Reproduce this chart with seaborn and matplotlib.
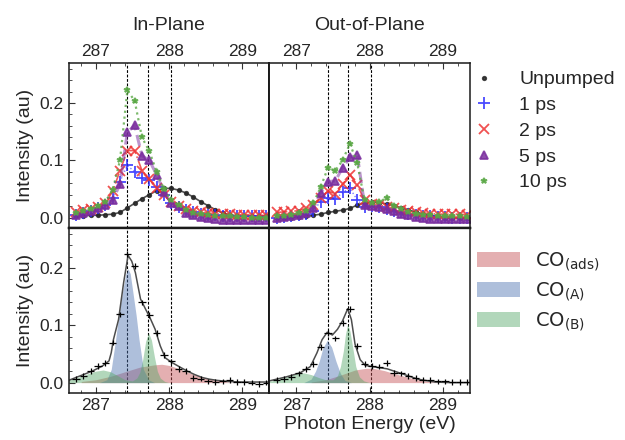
import matplotlib.pyplot as plt
import seaborn as sns
from matplotlib.ticker import MultipleLocator

#################### CONFIG ####################
sns.set_style("ticks")
plt.rcParams["font.family"] = ["Liberation Sans", "DejaVu Sans"]
plt.rcParams["mathtext.fontset"] = "dejavusans"
plt.rcParams["font.size"] = 14

DEEP = sns.color_palette("deep")
C_ADS, C_A, C_B = DEEP[3], DEEP[0], DEEP[2]
PEAK_LINES = [287.43, 287.71, 288.02]

#################### DATA ####################
energy = [286.73, 286.83, 286.93, 287.03, 287.13, 287.23, 287.33, 287.43, 287.53,
          287.63, 287.73, 287.83, 287.93, 288.03, 288.13, 288.23, 288.33, 288.43,
          288.53, 288.63, 288.73, 288.83, 288.93, 289.03, 289.13, 289.23, 289.33]

# in-plane pump-probe spectra
ip_unpumped = [0.003, 0.003, 0.004, 0.004, 0.005, 0.006, 0.009, 0.017, 0.025, 0.033, 0.040,
               0.047, 0.051, 0.051, 0.048, 0.043, 0.036, 0.028, 0.021, 0.014, 0.008, 0.005,
               0.003, 0.003, 0.002, 0.002, 0.002]
ip_1ps = [0.004, 0.008, 0.012, 0.016, 0.022, 0.034, 0.063, 0.091, 0.080, 0.069, 0.066,
          0.053, 0.040, 0.025, 0.018, 0.013, 0.010, 0.007, 0.005, 0.004, 0.003, 0.002,
          0.002, 0.002, 0.002, 0.002, 0.002]
ip_2ps = [0.010, 0.013, 0.015, 0.018, 0.025, 0.046, 0.082, 0.117, 0.117, 0.082, 0.067,
          0.052, 0.040, 0.027, 0.020, 0.015, 0.012, 0.010, 0.008, 0.007, 0.006, 0.006,
          0.005, 0.005, 0.005, 0.004, 0.004]
ip_5ps = [0.005, 0.008, 0.012, 0.016, 0.022, 0.031, 0.058, 0.149, 0.161, 0.108, 0.100,
          0.075, 0.045, 0.025, 0.020, 0.008, 0.004, 0.001, -0.001, -0.003, -0.004, -0.004,
          -0.004, -0.004, -0.005, -0.005, -0.005]
ip_10ps = [0.008, 0.011, 0.015, 0.020, 0.028, 0.048, 0.100, 0.222, 0.204, 0.140, 0.116,
           0.080, 0.050, 0.030, 0.022, 0.014, 0.008, 0.006, 0.004, 0.003, 0.002, 0.002,
           0.001, 0.001, 0.000, 0.000, 0.000]

# out-of-plane pump-probe spectra
oop_unpumped = [-0.001, -0.001, 0.000, 0.001, 0.002, 0.004, 0.006, 0.009, 0.011, 0.013, 0.016,
                0.022, 0.026, 0.027, 0.026, 0.024, 0.021, 0.017, 0.013, 0.010, 0.006, 0.004,
                0.002, 0.000, -0.001, -0.001, -0.001]
oop_1ps = [0.000, 0.001, 0.002, 0.004, 0.007, 0.012, 0.028, 0.034, 0.032, 0.044, 0.051,
           0.031, 0.019, 0.020, 0.018, 0.015, 0.012, 0.009, 0.007, 0.005, 0.003, 0.002,
           0.001, 0.001, 0.000, 0.000, 0.000]
oop_2ps = [0.009, 0.010, 0.011, 0.012, 0.016, 0.022, 0.035, 0.046, 0.042, 0.058, 0.075,
           0.057, 0.030, 0.024, 0.022, 0.019, 0.016, 0.013, 0.011, 0.009, 0.008, 0.007,
           0.006, 0.006, 0.006, 0.006, 0.005]
oop_5ps = [0.000, 0.001, 0.002, 0.004, 0.008, 0.016, 0.043, 0.063, 0.064, 0.087, 0.105,
           0.110, 0.022, 0.020, 0.018, 0.015, 0.011, 0.007, 0.004, 0.001, -0.001, -0.002,
           -0.003, -0.003, -0.003, -0.003, -0.003]
oop_10ps = [0.002, 0.003, 0.005, 0.008, 0.012, 0.025, 0.053, 0.087, 0.082, 0.100, 0.129,
            0.095, 0.030, 0.026, 0.028, 0.034, 0.020, 0.015, 0.010, 0.007, 0.005, 0.004,
            0.003, 0.002, 0.002, 0.002, 0.001]

# fitted 10 ps spectra (bottom row)
ip_fit_data = [0.006, 0.011, 0.020, 0.029, 0.034, 0.070, 0.119, 0.225, 0.204, 0.140, 0.118,
               0.087, 0.048, 0.037, 0.024, 0.020, 0.008, 0.007, 0.002, 0.001, 0.002, 0.004,
               0.001, 0.001, 0.000, -0.002, 0.000]
oop_fit_data = [0.004, 0.006, 0.010, 0.016, 0.024, 0.032, 0.062, 0.086, 0.077, 0.104, 0.129,
                0.064, 0.033, 0.029, 0.028, 0.034, 0.017, 0.016, 0.011, 0.008, 0.005, 0.004,
                0.002, 0.002, 0.001, 0.001, 0.001]

ip_fit_x = [286.63, 286.77, 286.95, 287.09, 287.18, 287.21, 287.24, 287.31, 287.38, 287.44,
            287.49, 287.54, 287.61, 287.68, 287.74, 287.81, 287.88, 287.95, 288.04, 288.15,
            288.25, 288.35, 288.45, 288.55, 288.65, 288.80, 289.00, 289.20, 289.37]
ip_fit_y = [0.004, 0.011, 0.020, 0.029, 0.038, 0.052, 0.075, 0.110, 0.175, 0.222,
            0.212, 0.192, 0.146, 0.128, 0.113, 0.093, 0.064, 0.043, 0.035, 0.027,
            0.020, 0.014, 0.009, 0.006, 0.004, 0.002, 0.001, 0.001, 0.001]
oop_fit_x = [286.63, 286.86, 287.05, 287.19, 287.28, 287.35, 287.42, 287.49, 287.56, 287.63,
             287.70, 287.75, 287.80, 287.87, 287.94, 288.03, 288.24, 288.43, 288.66, 288.89,
             289.10, 289.37]
oop_fit_y = [0.003, 0.010, 0.017, 0.028, 0.052, 0.075, 0.088, 0.083, 0.093, 0.108,
             0.129, 0.110, 0.067, 0.040, 0.030, 0.028, 0.024, 0.016, 0.006, 0.001,
             0.000, 0.000]

# fit components, in-plane
ip_ads_x = [286.80, 287.00, 287.20, 287.40, 287.60, 287.80, 287.90, 288.00, 288.10, 288.20,
            288.30, 288.40, 288.50, 288.60, 288.70, 288.80, 288.90]
ip_ads_y = [0.002, 0.005, 0.011, 0.019, 0.027, 0.031, 0.032, 0.030, 0.026, 0.021,
            0.016, 0.012, 0.008, 0.005, 0.003, 0.001, 0.000]
ip_a_x = [287.05, 287.15, 287.21, 287.27, 287.32, 287.37, 287.41, 287.44, 287.47, 287.50,
          287.55, 287.59, 287.65, 287.72, 287.80]
ip_a_y = [0.000, 0.005, 0.023, 0.075, 0.125, 0.163, 0.190, 0.199, 0.190, 0.163,
          0.118, 0.075, 0.023, 0.005, 0.000]
ip_b_x = [286.60, 286.70, 286.80, 286.90, 287.00, 287.10, 287.20, 287.30, 287.40, 287.50,
          287.56, 287.60, 287.64, 287.68, 287.72, 287.76, 287.80, 287.84, 287.88, 287.94, 288.00]
ip_b_y = [0.004, 0.007, 0.011, 0.016, 0.020, 0.022, 0.019, 0.012, 0.005, 0.003,
          0.008, 0.018, 0.040, 0.072, 0.087, 0.074, 0.045, 0.020, 0.008, 0.002, 0.000]

# fit components, out-of-plane
oop_ads_x = [287.20, 287.40, 287.60, 287.80, 287.95, 288.05, 288.20, 288.33, 288.50, 288.66,
             288.80, 288.95]
oop_ads_y = [0.001, 0.005, 0.013, 0.022, 0.025, 0.025, 0.021, 0.016, 0.010, 0.005,
             0.002, 0.000]
oop_a_x = [287.10, 287.20, 287.26, 287.31, 287.36, 287.42, 287.48, 287.54, 287.60, 287.66, 287.75]
oop_a_y = [0.000, 0.006, 0.020, 0.037, 0.060, 0.074, 0.062, 0.037, 0.016, 0.004, 0.000]
oop_b_x = [286.60, 286.70, 286.80, 286.90, 287.00, 287.10, 287.20, 287.30, 287.40, 287.50,
           287.56, 287.60, 287.64, 287.67, 287.70, 287.73, 287.77, 287.81, 287.86, 287.92, 288.00]
oop_b_y = [0.002, 0.004, 0.008, 0.012, 0.016, 0.017, 0.014, 0.009, 0.005, 0.005,
           0.012, 0.028, 0.055, 0.085, 0.102, 0.090, 0.060, 0.028, 0.010, 0.003, 0.000]

SERIES_STYLE = [
    # label, marker, size, color, line style, line width, line alpha
    ("Unpumped", ".", 5, "0.15", "-", 1.2, 0.8),
    ("1 ps", "+", 8, "#2b2bff", ":", 1.0, 0.6),
    ("2 ps", "x", 7, "#ee3333", "-.", 1.2, 0.8),
    ("5 ps", "^", 6, "#7a2e9e", "--", 2.2, 0.5),
    ("10 ps", "*", 4, "#5aa845", ":", 1.6, 0.8),
]

#################### FIGURE ####################
fig, axes = plt.subplots(2, 2, figsize=(6.25, 4.4), dpi=100, sharex=True, sharey=True,
                         gridspec_kw=dict(hspace=0, wspace=0))
fig.subplots_adjust(left=0.110, right=0.752, top=0.857, bottom=0.107)
(ax_ip, ax_oop), (ax_ip_fit, ax_oop_fit) = axes

for ax, spectra in [(ax_ip, [ip_unpumped, ip_1ps, ip_2ps, ip_5ps, ip_10ps]),
                    (ax_oop, [oop_unpumped, oop_1ps, oop_2ps, oop_5ps, oop_10ps])]:
    for vals, (label, mk, ms, col, ls, lw, la) in zip(spectra, SERIES_STYLE):
        sns.lineplot(x=energy, y=vals, ax=ax, color=col, linestyle=ls, linewidth=lw,
                     alpha=la, estimator=None, sort=False, legend=False)
        ax.plot(energy, vals, linestyle="none", marker=mk, markersize=ms, color=col,
                markeredgewidth=1.3, alpha=0.85, label=label)

for ax, data, fx, fy, comps in [
    (ax_ip_fit, ip_fit_data, ip_fit_x, ip_fit_y,
     [(ip_ads_x, ip_ads_y), (ip_a_x, ip_a_y), (ip_b_x, ip_b_y)]),
    (ax_oop_fit, oop_fit_data, oop_fit_x, oop_fit_y,
     [(oop_ads_x, oop_ads_y), (oop_a_x, oop_a_y), (oop_b_x, oop_b_y)]),
]:
    labels = [r"$\mathrm{CO_{(ads)}}$", r"$\mathrm{CO_{(A)}}$", r"$\mathrm{CO_{(B)}}$"]
    for (cx, cy), col, lab in zip(comps, [C_ADS, C_A, C_B], labels):
        ax.fill_between(cx, 0, cy, color=col, alpha=0.45, linewidth=0, label=lab)
    sns.lineplot(x=fx, y=fy, ax=ax, color="0.3", linewidth=1.1, estimator=None, sort=False,
                 legend=False)
    ax.errorbar(energy, data, xerr=0.05, yerr=0.005, fmt="none", ecolor="k",
                elinewidth=0.9, capsize=0)

for ax in axes.flat:
    for x0 in PEAK_LINES:
        ax.axvline(x0, color="k", linestyle=(0, (2.5, 1.5)), linewidth=0.8, zorder=0.5)
    ax.set_xlim(286.63, 289.37)
    ax.set_ylim(-0.018, 0.27)
    ax.xaxis.set_major_locator(MultipleLocator(1))
    ax.xaxis.set_minor_locator(MultipleLocator(0.2))
    ax.yaxis.set_major_locator(MultipleLocator(0.1))
    ax.yaxis.set_minor_locator(MultipleLocator(0.02))
    ax.tick_params(which="both", direction="in", labelsize=12.5, color="0.2")
    ax.tick_params(which="major", length=4)
    ax.tick_params(which="minor", length=2.5)
    for side in ax.spines.values():
        side.set_color("0.1")
        side.set_linewidth(1.1)

for ax in (ax_ip, ax_oop):
    ax.tick_params(axis="x", which="both", top=True, bottom=False, labeltop=True,
                   labelbottom=False, pad=3)
    ax.spines["bottom"].set_linewidth(1.7)
for ax in (ax_ip_fit, ax_oop_fit):
    ax.tick_params(axis="x", which="both", top=False, bottom=True, labelbottom=True)
    ax.spines["top"].set_linewidth(1.7)
for ax in (ax_oop, ax_oop_fit):
    ax.tick_params(axis="y", which="both", left=False, labelleft=False)
    ax.spines["left"].set_linewidth(1.4)
for ax in (ax_ip, ax_ip_fit):
    ax.spines["right"].set_linewidth(1.4)
    ax.set_ylabel("Intensity (au)", fontsize=14, labelpad=4)
    ax.set_yticks([0.0, 0.1, 0.2])
    ax.set_yticklabels(["0.0", "0.1", "0.2"])

ax_ip.set_title("In-Plane", fontsize=14, pad=10)
ax_oop.set_title("Out-of-Plane", fontsize=14, pad=10)
ax_oop_fit.set_xlabel("Photon Energy (eV)", fontsize=14, labelpad=2)
ax_ip_fit.set_xlabel("")

ax_oop.legend(loc="upper left", bbox_to_anchor=(0.985, 1.0), frameon=False, fontsize=14,
              handlelength=1.0, handletextpad=1.3, labelspacing=0.42, borderaxespad=0)
ax_oop_fit.legend(loc="upper left", bbox_to_anchor=(0.995, 0.91), frameon=False, fontsize=14,
                  handlelength=2.2, handleheight=0.8, handletextpad=0.8, labelspacing=0.4,
                  borderaxespad=0)

plt.savefig("out.png", facecolor="white", dpi=100)
